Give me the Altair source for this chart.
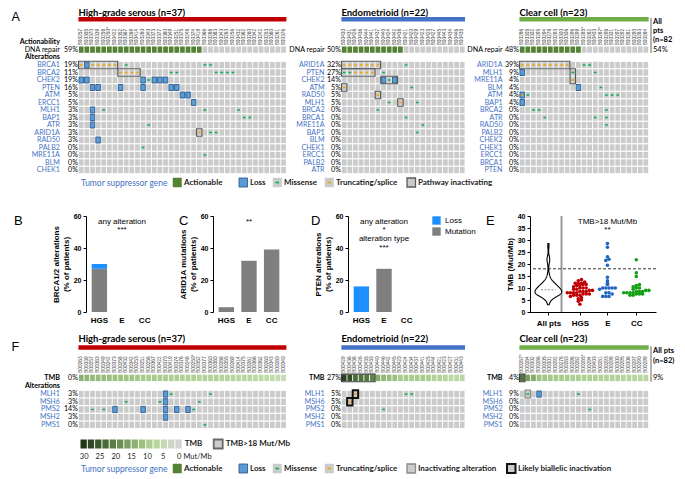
import altair as alt
import pandas as pd

FONT = "Lato"
AXF = "Liberation Sans"

# ======================= DATA =======================
GROUPS = ["HGS", "E", "CC"]

# ---- Panel A: sample order per histotype ----
HGS_IDS_A = ["B00257", "B00355", "B00370", "B00339", "B00258", "B00250*", "B00422", "B00352", "B00367",
             "B00269", "B00414", "B00280", "B00340", "B00373", "B00377", "B00380", "B00349", "B00251",
             "B00375", "B00248", "B00374", "B00419", "B00366", "B00288", "B00383", "B00343", "B00263",
             "B00256", "B00432", "B00362", "B00260", "B00342", "B00242", "B00253", "B00360", "B00261",
             "B00376"]
END_IDS_A = ["B00430", "B00431", "B00426", "B00436", "B00444", "B00441", "B00437", "B00440", "B00424",
             "B00442", "B00438", "B00421", "B00420", "B00429", "B00423", "B00425", "B00427", "B00445",
             "B00443", "B00434", "B00446", "B00435"]
CC_IDS_A = ["B00286", "B00305", "B00302", "B00295", "B00294", "B00278", "B00293", "B00300", "B00306",
            "B00296", "B00299", "B00285*", "B00282", "B00403", "B00287*", "B00298", "B00301", "B00297",
            "B00292", "B00281", "B00290", "B00283", "B00284"]

HGS_GENES_A = ["BRCA1", "BRCA2", "CHEK2", "PTEN", "ATM", "ERCC1", "MLH1", "BAP1", "ATR", "ARID1A",
               "RAD50", "PALB2", "MRE11A", "BLM", "CHEK1"]
HGS_PCT_A = [19, 11, 19, 16, 5, 5, 3, 3, 3, 3, 3, 0, 0, 0, 0]
END_GENES_A = ["ARID1A", "PTEN", "CHEK2", "ATM", "RAD50", "MLH1", "BRCA2", "BRCA1", "MRE11A", "BAP1",
               "BLM", "CHEK1", "ERCC1", "PALB2", "ATR"]
END_PCT_A = [32, 27, 14, 5, 5, 5, 0, 0, 0, 0, 0, 0, 0, 0, 0]
CC_GENES_A = ["ARID1A", "MLH1", "MRE11A", "BLM", "ATM", "BAP1", "BRCA2", "ATR", "RAD50", "PALB2",
              "CHEK2", "CHEK1", "ERCC1", "BRCA1", "PTEN"]
CC_PCT_A = [39, 9, 4, 4, 4, 4, 0, 0, 0, 0, 0, 0, 0, 0, 0]

DNA_REPAIR_PCT = {"HGS": 59, "E": 50, "CC": 48, "All": 54}
ACTIONABLE_N = {"HGS": 22, "E": 11, "CC": 11}

# events: (gene, kind, sample columns)
HGS_EV_A = [
    ("BRCA1", "trunc", [0, 2, 3, 4, 5, 6]), ("BRCA1", "loss", [1]), ("BRCA1", "missense", [8, 22, 23]),
    ("BRCA2", "trunc", [7, 8, 9, 10]), ("BRCA2", "missense", [16, 17, 24, 25, 26, 27]),
    ("CHEK2", "loss", [0, 1, 11, 13, 14, 15]), ("CHEK2", "missense", [12]),
    ("PTEN", "loss", [2, 3, 7, 11, 16, 17]),
    ("ATM", "loss", [18, 19]),
    ("ERCC1", "loss", [20]),
    ("MLH1", "loss", [2]), ("MLH1", "missense", [4, 22, 28]),
    ("BAP1", "loss", [2]), ("BAP1", "missense", [29, 30]),
    ("ATR", "loss", [2]), ("ATR", "missense", [12]),
    ("ARID1A", "trunc", [21]), ("ARID1A", "missense", [23, 24]),
    ("RAD50", "loss", [3]),
    ("PALB2", "missense", [11]),
    ("MRE11A", "missense", [22]),
]
HGS_BOX_A = [("BRCA1", "BRCA1", 0, 6, "path"), ("BRCA2", "BRCA2", 7, 10, "path"),
             ("ARID1A", "ARID1A", 21, 21, "path")]

END_EV_A = [
    ("ARID1A", "trunc", [0, 1, 2, 3, 4, 5, 6]), ("ARID1A", "missense", [11]),
    ("PTEN", "missense", [0, 1, 7]), ("PTEN", "trunc", [2, 3, 4, 5]),
    ("CHEK2", "loss", [7, 9]), ("CHEK2", "missense", [8]),
    ("ATM", "trunc", [0]), ("ATM", "missense", [12]),
    ("RAD50", "trunc", [6]),
    ("MLH1", "missense", [8, 13]), ("MLH1", "trunc", [10]),
    ("BRCA2", "missense", [6]),
    ("BRCA1", "missense", [11]),
    ("MRE11A", "missense", [14]),
    ("BAP1", "missense", [13]),
]
END_BOX_A = [("ARID1A", "ARID1A", 0, 6, "path"), ("PTEN", "PTEN", 0, 5, "path"),
             ("CHEK2", "CHEK2", 7, 9, "path"), ("ATM", "ATM", 0, 0, "path"),
             ("RAD50", "RAD50", 6, 6, "path"), ("MLH1", "MLH1", 10, 10, "path")]

CC_EV_A = [
    ("ARID1A", "trunc", [0, 1, 2, 3, 4, 5, 6, 7, 8]), ("ARID1A", "missense", [11, 12]),
    ("MLH1", "loss", [0]), ("MLH1", "missense", [9, 13]),
    ("MRE11A", "trunc", [9]),
    ("BLM", "loss", [10]), ("BLM", "missense", [14]),
    ("ATM", "loss", [0]), ("ATM", "trunc", [0]), ("ATM", "missense", [1, 15, 16, 17]),
    ("BAP1", "loss", [0]),
    ("BRCA2", "missense", [2, 3, 15]),
    ("ATR", "missense", [4, 13, 15]),
    ("RAD50", "missense", [15]),
]
CC_BOX_A = [("ARID1A", "ARID1A", 0, 8, "path"), ("MLH1", "MRE11A", 9, 9, "path")]

# ---- Panels B-D (% of patients) ----
B_GROUP = ["HGS", "HGS", "E", "CC"]
B_TYPE = ["Mutation", "Loss", "Mutation", "Mutation"]
B_VALUE = [27, 3, 0, 0]
C_GROUP = ["HGS", "E", "CC"]
C_TYPE = ["Mutation", "Mutation", "Mutation"]
C_VALUE = [3, 32, 39]
D_GROUP = ["HGS", "E", "CC"]
D_TYPE = ["Loss", "Mutation", "Mutation"]
D_VALUE = [16, 27, 0]

# ---- TMB (Mut/Mb), sorted high to low within each histotype (panels E and F) ----
HGS_TMB = [13.5, 13, 12.5, 12, 12, 12, 11.5, 11.5, 11, 11, 10.5, 10, 10, 10, 9.5, 9.5, 9, 9, 8.5,
           8.5, 8.5, 8, 8, 8, 8, 7.5, 7.5, 7.5, 7, 7, 7, 6.5, 6, 5.5, 5, 4.5, 3.2]
END_TMB = [28.5, 27, 23, 22, 21.5, 19.5, 14.5, 13, 12, 11.5, 10, 10, 10, 10, 10, 9.5, 8, 8, 7.5,
           6.5, 6.5, 6.5]
CC_TMB = [21.8, 16.3, 14.8, 11.4, 11, 10.5, 10, 10, 9.5, 9, 9, 8.5, 8.5, 8.5, 8, 8, 8, 8, 7.5, 7.5,
          7.5, 7, 7]

# ---- Panel F: sample order (by TMB) ----
HGS_IDS_F = ["B00263", "B00339", "B00257", "B00383", "B00349", "B00242", "B00373", "B00258", "B00432",
             "B00342", "B00253", "B00251", "B00256", "B00367", "B00422", "B00370", "B00419", "B00374",
             "B00376", "B00248", "B00250*", "B00352", "B00377", "B00360", "B00380", "B00288", "B00355",
             "B00269", "B00414", "B00375", "B00261", "B00366", "B00362", "B00260", "B00343", "B00280",
             "B00340"]
END_IDS_F = ["B00429", "B00436", "B00438", "B00426", "B00435", "B00430", "B00440", "B00446", "B00442",
             "B00445", "B00420", "B00424", "B00434", "B00437", "B00441", "B00425", "B00444", "B00421",
             "B00423", "B00427", "B00431", "B00443"]
CC_IDS_F = ["B00287*", "B00284", "B00302", "B00286", "B00305", "B00301", "B00292", "B00278", "B00283",
            "B00296", "B00282", "B00285*", "B00294", "B00403", "B00281", "B00293", "B00298", "B00300",
            "B00295", "B00306", "B00297", "B00290", "B00299"]

MMR_GENES = ["MLH1", "MSH6", "PMS2", "MSH2", "PMS1"]
HGS_PCT_F = [3, 3, 14, 3, 0]
END_PCT_F = [5, 5, 0, 0, 0]
CC_PCT_F = [9, 0, 0, 0, 0]
TMB_HIGH_PCT = {"HGS": 0, "E": 27, "CC": 4, "All": 9}

HGS_EV_F = [
    ("MLH1", "loss", [15]), ("MLH1", "missense", [16, 23]),
    ("MSH6", "missense", [8, 14, 21]), ("MSH6", "loss", [15]),
    ("PMS2", "missense", [2, 4, 20]), ("PMS2", "loss", [6, 11, 15, 17, 19]),
    ("MSH2", "loss", [15]),
    ("PMS1", "missense", [22]),
]
HGS_BOX_F = []
END_EV_F = [
    ("MLH1", "trunc", [2]), ("MLH1", "missense", [11, 12]),
    ("MSH6", "trunc", [1]),
    ("PMS2", "missense", [7]),
]
END_BOX_F = [("TOP", "TOP", 0, 5, "tmbhi"), ("MLH1", "MLH1", 2, 2, "biall"), ("MSH6", "MSH6", 1, 1, "biall")]
CC_EV_F = [
    ("MLH1", "missense", [1, 10]), ("MLH1", "loss", [3]),
    ("PMS2", "missense", [12]),
]
CC_BOX_F = [("TOP", "TOP", 0, 0, "tmbhi"), ("MLH1", "MLH1", 1, 1, "inact")]

# ======================= STYLE / LAYOUT =======================
CELL = 5.62
GRAY = "#cbcbcb"
GREEN = "#548235"
LOSS = "#5b9bd5"
LOSS_S = "#2f5f8f"
MIS = "#00b050"
TRUNC = "#f5a300"
TSG = "#4472c4"
BAR_COL = {"HGS": "#c00000", "E": "#4472c4", "CC": "#70ad47"}
BOX_STYLE = {"path": ("#5a5a5a", 1.2), "inact": ("#8a8a8a", 1.2), "biall": ("#111111", 2.0),
             "tmbhi": ("#3a3a3a", 1.2)}
TMB_SCALE = alt.Scale(domain=[0, 5, 10, 20, 30],
                      range=["#d3d3d3", "#c3dcae", "#a8cc8c", "#5e8447", "#22361a"], clamp=True)
BLUE_B = "#1e8fff"
GRAY_B = "#7f7f7f"
PT_COL = ["#c00000", "#1f66c2", "#12a012"]

LBL_FS = 7.1
PCT_X = -0.1
LEFT = {"HGS": 12.0, "E": 9.5, "CC": 9.5}
LABEL_X = {"HGS": -3.3, "E": -3.0, "CC": -3.0}
ALLW = 27
GEO_A = dict(ydom=[-7.6, 14.5], px=7.5, title=-6.9, bar=-6.1, ids=-2.62, top=-2.05)
GEO_F = dict(ydom=[-7.8, 4.5], px=7.7, title=-7.2, bar=-6.05, ids=-2.75, top=-2.1)


def expand_events(events, rowmap):
    recs = [{"col": c, "row": rowmap[g], "kind": k} for g, k, cols in events for c in cols]
    return pd.DataFrame(recs, columns=["col", "row", "kind"])


def expand_boxes(boxes, rowmap):
    recs = [{"r0": rowmap[a], "r1": rowmap[b], "c0": c0, "c1": c1, "kind": k} for a, b, c0, c1, k in boxes]
    return pd.DataFrame(recs, columns=["r0", "r1", "c0", "c1", "kind"])


def onco(ids, genes, pcts, events, boxes, title, grp, G, top_kind, top_vals,
         top_label, top_pct, headers=(), letter=None):
    n = len(ids)
    left = LEFT[grp]
    lx = LABEL_X[grp]
    xs = alt.Scale(domain=[-left, n + 0.12], nice=False, zero=False)
    ys = alt.Scale(domain=G["ydom"], nice=False, zero=False, reverse=True)

    def enc(xf, yf, x2=None, y2=None):
        e = dict(x=alt.X(xf, type="quantitative", scale=xs, axis=None),
                 y=alt.Y(yf, type="quantitative", scale=ys, axis=None))
        if x2:
            e["x2"] = alt.X2(x2)
        if y2:
            e["y2"] = alt.Y2(y2)
        return e

    rowmap = {g: i for i, g in enumerate(genes)}
    rowmap["TOP"] = G["top"]
    cellbox = dict(x0="datum.col+0.08", x1="datum.col+0.92", y0="datum.row-0.42", y1="datum.row+0.42")
    L = []
    cells = pd.DataFrame([{"col": c, "row": r} for r in range(len(genes)) for c in range(n)])
    L.append(alt.Chart(cells).transform_calculate(**cellbox).mark_rect(color=GRAY)
             .encode(**enc("x0", "y0", "x1", "y1")))
    top = pd.DataFrame({"col": list(range(n)), "v": top_vals})
    topc = alt.Chart(top).transform_calculate(row=str(G["top"]), **cellbox)
    if top_kind == "action":
        L.append(topc.mark_rect().encode(
            color=alt.condition("datum.v > 0", alt.value(GREEN), alt.value(GRAY)),
            **enc("x0", "y0", "x1", "y1")))
    else:
        L.append(topc.mark_rect().encode(color=alt.Color("v:Q", scale=TMB_SCALE, legend=None),
                                         **enc("x0", "y0", "x1", "y1")))
    ev = expand_events(events, rowmap)
    loss = ev[ev.kind == "loss"]
    if len(loss):
        L.append(alt.Chart(loss).transform_calculate(
            x0="datum.col+0.1", x1="datum.col+0.9", y0="datum.row-0.4", y1="datum.row+0.4")
            .mark_rect(color=LOSS, stroke=LOSS_S, strokeWidth=0.9).encode(**enc("x0", "y0", "x1", "y1")))
    for kind, colr in (("missense", MIS), ("trunc", TRUNC)):
        sub = ev[ev.kind == kind]
        if len(sub):
            L.append(alt.Chart(sub).transform_calculate(x0="datum.col+0.27", x1="datum.col+0.73")
                     .mark_rule(color=colr, strokeWidth=1.5).encode(**enc("x0", "row", "x1")))
    bx = expand_boxes(boxes, rowmap)
    for kind, (colr, sw) in BOX_STYLE.items():
        sub = bx[bx.kind == kind]
        if len(sub):
            L.append(alt.Chart(sub).transform_calculate(
                x0="datum.c0+0.02", x1="datum.c1+0.98", y0="datum.r0-0.5", y1="datum.r1+0.5")
                .mark_rect(fillOpacity=0, stroke=colr, strokeWidth=sw).encode(**enc("x0", "y0", "x1", "y1")))
    # labels
    gl = pd.DataFrame({"t": genes, "row": list(range(len(genes)))})
    L.append(alt.Chart(gl).transform_calculate(xx=str(lx))
             .mark_text(align="right", baseline="middle", font=FONT, fontSize=LBL_FS, color=TSG)
             .encode(text="t:N", **enc("xx", "row")))
    pl = pd.DataFrame({"t": [f"{p}%" for p in pcts] + [f"{top_pct}%"],
                       "row": list(range(len(genes))) + [G["top"]]})
    L.append(alt.Chart(pl).transform_calculate(xx=str(PCT_X))
             .mark_text(align="right", baseline="middle", font=FONT, fontSize=LBL_FS, color="black")
             .encode(text="t:N", **enc("xx", "row")))
    tl = pd.DataFrame({"t": [top_label], "row": [G["top"]]})
    L.append(alt.Chart(tl).transform_calculate(xx=str(lx))
             .mark_text(align="right", baseline="middle", font=FONT, fontSize=LBL_FS, color="black",
                        fontWeight="bold" if top_kind == "tmb" else "normal")
             .encode(text="t:N", **enc("xx", "row")))
    if headers:
        hl = pd.DataFrame({"t": [h for h, _ in headers], "row": [r for _, r in headers]})
        L.append(alt.Chart(hl).transform_calculate(xx=str(lx))
                 .mark_text(align="right", baseline="middle", font=FONT, fontSize=LBL_FS, fontWeight="bold",
                            color="black")
                 .encode(text="t:N", **enc("xx", "row")))
    il = pd.DataFrame({"t": ids, "col": list(range(n))})
    L.append(alt.Chart(il).transform_calculate(xx="datum.col+0.5", row=str(G["ids"]))
             .mark_text(angle=270, align="left", baseline="middle", font=AXF, fontSize=4.8, color="#444")
             .encode(text="t:N", **enc("xx", "row")))
    L.append(alt.Chart(pd.DataFrame({"t": [title]})).transform_calculate(xx="0", row=str(G["title"]))
             .mark_text(align="left", baseline="middle", font=FONT, fontSize=9.5, fontWeight="bold",
                        color="black")
             .encode(text="t:N", **enc("xx", "row")))
    L.append(alt.Chart(pd.DataFrame({"n": [n]})).transform_calculate(
        x0="0", x1="datum.n", y0=str(G["bar"] - 0.3), y1=str(G["bar"] + 0.3))
        .mark_rect(color=BAR_COL[grp]).encode(**enc("x0", "y0", "x1", "y1")))
    if letter:
        at_top = letter != "F"
        L.append(alt.Chart(pd.DataFrame({"t": [letter]})).transform_calculate(
            xx=str(-left + 0.1), row=str(G["ydom"][0] + 0.35 if at_top else G["bar"]))
            .mark_text(align="left", baseline="top" if at_top else "middle", font=AXF, fontSize=12.5,
                       color="black")
            .encode(text="t:N", **enc("xx", "row")))
    return alt.layer(*L).properties(width=(left + n + 0.12) * CELL,
                                    height=(G["ydom"][1] - G["ydom"][0]) * G["px"])


def allpts(lines, G, rule_rows):
    xs = alt.Scale(domain=[0, ALLW], nice=False, zero=False)
    ys = alt.Scale(domain=G["ydom"], nice=False, zero=False, reverse=True)
    L = [alt.Chart(pd.DataFrame({"y0": [rule_rows[0]], "y1": [rule_rows[1]]}))
         .transform_calculate(xx="1").mark_rule(color="#9a9a9a", strokeWidth=1.5)
         .encode(x=alt.X("xx:Q", scale=xs, axis=None), y=alt.Y("y0:Q", scale=ys, axis=None),
                 y2=alt.Y2("y1"))]
    for w in ("bold", "normal"):
        sub = [(t, r) for t, r, ww in lines if ww == w]
        if sub:
            df = pd.DataFrame({"t": [s[0] for s in sub], "row": [s[1] for s in sub]})
            L.append(alt.Chart(df).transform_calculate(xx="3")
                     .mark_text(align="left", baseline="middle", font=FONT, fontSize=7.5, fontWeight=w,
                                color="black")
                     .encode(x=alt.X("xx:Q", scale=xs, axis=None), y=alt.Y("row:Q", scale=ys, axis=None),
                             text="t:N"))
    return alt.layer(*L).properties(width=ALLW, height=(G["ydom"][1] - G["ydom"][0]) * G["px"])


LEG_STYLE = {
    "action": (GREEN, GREEN, 0.5, None),
    "loss": (LOSS, LOSS_S, 0.9, None),
    "missense": (GRAY, GRAY, 0.5, MIS),
    "trunc": (GRAY, GRAY, 0.5, TRUNC),
    "path": (GRAY, "#5a5a5a", 1.3, None),
    "inact": (GRAY, "#8a8a8a", 1.3, None),
    "biall": (GRAY, "#111111", 2.0, None),
}


def legend_chart(items, width, height, ymid, extra=()):
    xs = alt.Scale(domain=[0, width], nice=False, zero=False)
    ys = alt.Scale(domain=[0, height], nice=False, zero=False, reverse=True)

    def ex(f):
        return alt.X(f, type="quantitative", scale=xs, axis=None)

    def ey(f):
        return alt.Y(f, type="quantitative", scale=ys, axis=None)

    sq = [i for i in items if i[1] != "tsg"]
    sqdf = pd.DataFrame({"x": [i[0] for i in sq], "label": [i[2] for i in sq],
                         "fill": [LEG_STYLE[i[1]][0] for i in sq], "stroke": [LEG_STYLE[i[1]][1] for i in sq],
                         "sw": [LEG_STYLE[i[1]][2] for i in sq],
                         "dash": [LEG_STYLE[i[1]][3] or "none" for i in sq], "y": ymid})
    L = []
    L.append(alt.Chart(sqdf).transform_calculate(x1="datum.x+8.5", y0="datum.y-4.5", y1="datum.y+4.5")
             .mark_rect().encode(x=ex("x"), x2=alt.X2("x1"), y=ey("y0"), y2=alt.Y2("y1"),
                                 color=alt.Color("fill:N", scale=None),
                                 stroke=alt.Stroke("stroke:N", scale=None),
                                 strokeWidth=alt.StrokeWidth("sw:Q", scale=None)))
    dd = sqdf[sqdf.dash != "none"]
    L.append(alt.Chart(dd).transform_calculate(x0="datum.x+2.5", x1="datum.x+6")
             .mark_rule(strokeWidth=1.6).encode(x=ex("x0"), x2=alt.X2("x1"), y=ey("y"),
                                                color=alt.Color("dash:N", scale=None)))
    L.append(alt.Chart(sqdf).transform_calculate(xt="datum.x+11")
             .mark_text(align="left", baseline="middle", font=FONT, fontSize=8, fontWeight="bold",
                        color="#222").encode(x=ex("xt"), y=ey("y"), text="label:N"))
    ts = [i for i in items if i[1] == "tsg"]
    tsdf = pd.DataFrame({"x": [i[0] for i in ts], "label": [i[2] for i in ts], "y": ymid})
    L.append(alt.Chart(tsdf).mark_text(align="left", baseline="middle", font=FONT, fontSize=8.5, color=TSG)
             .encode(x=ex("x"), y=ey("y"), text="label:N"))
    for e in extra:
        L.append(e(ex, ey))
    return alt.layer(*L).properties(width=width, height=height)


# ======================= PANEL A =======================
hgsA = onco(HGS_IDS_A, HGS_GENES_A, HGS_PCT_A, HGS_EV_A, HGS_BOX_A, "High-grade serous (n=37)",
            "HGS", GEO_A, "action",
            [1 if c < ACTIONABLE_N["HGS"] else 0 for c in range(len(HGS_IDS_A))],
            "DNA repair", DNA_REPAIR_PCT["HGS"],
            headers=[("Actionability", -3.1), ("Alterations", -1.05)], letter="A")
endA = onco(END_IDS_A, END_GENES_A, END_PCT_A, END_EV_A, END_BOX_A, "Endometrioid (n=22)",
            "E", GEO_A, "action",
            [1 if c < ACTIONABLE_N["E"] else 0 for c in range(len(END_IDS_A))],
            "DNA repair", DNA_REPAIR_PCT["E"])
ccA = onco(CC_IDS_A, CC_GENES_A, CC_PCT_A, CC_EV_A, CC_BOX_A, "Clear cell (n=23)",
           "CC", GEO_A, "action",
           [1 if c < ACTIONABLE_N["CC"] else 0 for c in range(len(CC_IDS_A))],
           "DNA repair", DNA_REPAIR_PCT["CC"])
allA = allpts([("All", -5.7, "bold"), ("pts", -4.5, "bold"), ("(n=82", -3.3, "bold"),
               (f"{DNA_REPAIR_PCT['All']}%", -2.05, "normal")], GEO_A, (-6.3, -1.6))
rowA = alt.hconcat(hgsA, endA, ccA, allA, spacing=0).resolve_scale(color="independent")

ROW_W = (LEFT["HGS"] + LEFT["E"] + LEFT["CC"] + len(HGS_IDS_A) + len(END_IDS_A) + len(CC_IDS_A) + 0.36) * CELL
legA = legend_chart([(70, "tsg", "Tumor suppressor gene"), (162, "action", "Actionable"),
                     (228, "loss", "Loss"), (262, "missense", "Missense"), (314, "trunc", "Truncating/splice"),
                     (396, "path", "Pathway inactivating")], ROW_W, 11, 5.5)


# ======================= PANELS B-E =======================
def letter_layer(letter, dx, pad):
    lt = alt.Chart(pd.DataFrame({"t": [letter]})).mark_text(
        align="left", baseline="top", font=AXF, fontSize=13, color="black").encode(
        x=alt.value(dx), y=alt.value(-1), text="t:N")
    padl = alt.Chart(pd.DataFrame({"t": [letter]})).mark_rule(opacity=0, color="white").encode(
        x=alt.value(pad), x2=alt.value(pad + 1), y=alt.value(2))
    return [lt, padl]


def bar_panel(group, typ, value, letter, ytitle, notes, legend=None, letter_dx=-70, pad=-70):
    df = pd.DataFrame({"group": group, "type": typ, "value": value})
    xsc = alt.Scale(domain=GROUPS, paddingInner=0.32, paddingOuter=0.25)
    xax = alt.Axis(title=None, labelAngle=0, domain=False, ticks=False, labelFont=AXF, labelFontSize=8,
                   labelFontWeight="bold", labelColor="black", labelPadding=4)
    ysc = alt.Scale(domain=[0, 60], nice=False)
    yax = alt.Axis(values=[0, 20, 40, 60], title=ytitle, grid=False, domainColor="black", tickColor="black",
                   tickSize=3, labelFont=AXF, labelFontSize=7, labelFontWeight="bold", labelColor="black",
                   titleFont=AXF, titleFontSize=8, titleFontWeight="bold", titleColor="black",
                   titlePadding=3, labelPadding=2)
    bars = alt.Chart(df).transform_calculate(ord="datum.type == 'Loss' ? 1 : 0").mark_bar().encode(
        x=alt.X("group:N", scale=xsc, axis=xax, sort=GROUPS),
        y=alt.Y("value:Q", scale=ysc, axis=yax, stack="zero"),
        color=alt.Color("type:N", scale=alt.Scale(domain=["Loss", "Mutation"], range=[BLUE_B, GRAY_B]),
                        legend=legend),
        order=alt.Order("ord:Q"))
    nt = alt.Chart(pd.DataFrame(notes, columns=["t", "y"]).assign(group="E")).mark_text(
        font=AXF, fontSize=8, color="black").encode(
        x=alt.X("group:N", scale=xsc, axis=xax, sort=GROUPS), y=alt.Y("y:Q", scale=ysc, axis=yax), text="t:N")
    return alt.layer(bars, nt, *letter_layer(letter, letter_dx, pad)).properties(width=72, height=96)


B = bar_panel(B_GROUP, B_TYPE, B_VALUE, "B", ["BRCA1/2 alterations", "(% of patients)"],
              [("any alteration", 56.5), ("***", 51)], letter_dx=-72, pad=-72)
C = bar_panel(C_GROUP, C_TYPE, C_VALUE, "C", ["ARID1A mutations", "(% of patients)"],
              [("**", 56)], letter_dx=-34, pad=-55)
D = bar_panel(D_GROUP, D_TYPE, D_VALUE, "D", ["PTEN alterations", "(% of patients)"],
              [("any alteration", 56.5), ("*", 51.5), ("alteration type", 45.5), ("***", 40)],
              legend=alt.Legend(title=None, orient="right", symbolType="square", symbolSize=70,
                                labelFont=AXF, labelFontSize=8, offset=12, symbolStrokeWidth=0,
                                rowPadding=2),
              letter_dx=-37, pad=-63)

E_POS = [0, 1.2, 2.25, 3.35]
E_NAMES = ["All pts", "HGS", "E", "CC"]
tmb_df = pd.DataFrame({"group": ["HGS"] * len(HGS_TMB) + ["E"] * len(END_TMB) + ["CC"] * len(CC_TMB),
                       "tmb": HGS_TMB + END_TMB + CC_TMB})
xsE = alt.Scale(domain=[-0.7, 4.1], nice=False, zero=False)
ysE = alt.Scale(domain=[0, 40], nice=False)
lab_expr = " : ".join(f"datum.value == {p} ? '{nm}'" for p, nm in zip(E_POS[:-1], E_NAMES[:-1])) + f" : '{E_NAMES[-1]}'"
xaxE = alt.Axis(values=E_POS, labelExpr=lab_expr, title=None, grid=False, domainColor="black",
                tickColor="black", tickSize=3, labelFont=AXF, labelFontSize=8, labelFontWeight="bold",
                labelColor="black", labelPadding=4)
yaxE = alt.Axis(values=list(range(0, 45, 5)), title="TMB (Mut/Mb)", grid=False, domainColor="black",
                tickColor="black", tickSize=3, labelFont=AXF, labelFontSize=7, labelFontWeight="bold",
                labelColor="black", titleFont=AXF, titleFontSize=8, titleFontWeight="bold",
                titleColor="black", titlePadding=3, labelPadding=2)
violin = alt.Chart(tmb_df).transform_density(
    "tmb", as_=["v", "d"], bandwidth=1.3, extent=[3, 28.5], steps=150
).transform_calculate(lo="-datum.d*3.6", hi="datum.d*3.6").mark_area(
    orient="horizontal", fill="white", stroke="black", strokeWidth=1.1
).encode(y=alt.Y("v:Q", scale=ysE, axis=yaxE), x=alt.X("lo:Q", scale=xsE, axis=xaxE), x2=alt.X2("hi"))
med = alt.Chart(tmb_df).mark_rule(strokeDash=[2, 1.5], color="#888888", strokeWidth=1).encode(
    y=alt.Y("median(tmb):Q", scale=ysE, axis=yaxE), x=alt.datum(-0.28), x2=alt.datum(0.28))
divider = alt.Chart(pd.DataFrame({"p": [0.5]})).mark_rule(color="#9a9a9a", strokeWidth=2).encode(
    x=alt.X("p:Q", scale=xsE, axis=xaxE))
thresh = alt.Chart(pd.DataFrame({"v": [18]})).mark_rule(strokeDash=[3, 2], color="#333333",
                                                        strokeWidth=1).encode(y=alt.Y("v:Q", scale=ysE, axis=yaxE))
cx_expr = " : ".join(f"datum.group == '{g}' ? {p}" for g, p in zip(GROUPS[:-1], E_POS[1:-1])) + f" : {E_POS[-1]}"
pts = alt.Chart(tmb_df).transform_calculate(
    cx=cx_expr, b="floor(datum.tmb / 1.3)"
).transform_window(
    rk="row_number()", cnt="count()", groupby=["group", "b"], frame=[None, None],
    sort=[alt.SortField("tmb", order="ascending")]
).transform_calculate(
    xp="datum.cx + (datum.rk - 1 - (datum.cnt - 1) / 2) * 0.12"
).mark_circle(size=13, opacity=1).encode(
    x=alt.X("xp:Q", scale=xsE, axis=xaxE), y=alt.Y("tmb:Q", scale=ysE, axis=yaxE),
    color=alt.Color("group:N", scale=alt.Scale(domain=GROUPS, range=PT_COL), legend=None))
enote = alt.Chart(pd.DataFrame({"t": ["TMB>18 Mut/Mb", "**"], "y": [37.5, 34.2], "x": [2.25, 2.25]})).mark_text(
    font=AXF, fontSize=8, color="black").encode(x=alt.X("x:Q", scale=xsE, axis=xaxE),
                                                 y=alt.Y("y:Q", scale=ysE, axis=yaxE), text="t:N")
E = alt.layer(divider, thresh, violin, med, pts, enote, *letter_layer("E", -44, -54)).properties(
    width=126, height=96)

spacer = alt.Chart(pd.DataFrame({"a": [0]})).mark_point(opacity=0).encode(
    x=alt.value(0), y=alt.value(0)).properties(width=1, height=1)
rowBE = alt.hconcat(spacer, B, C, D, E, spacing=0).resolve_scale(color="independent")

# ======================= PANEL F =======================
hgsF = onco(HGS_IDS_F, MMR_GENES, HGS_PCT_F, HGS_EV_F, HGS_BOX_F, "High-grade serous (n=37)",
            "HGS", GEO_F, "tmb", HGS_TMB, "TMB", TMB_HIGH_PCT["HGS"],
            headers=[("Alterations", -1.05)], letter="F")
endF = onco(END_IDS_F, MMR_GENES, END_PCT_F, END_EV_F, END_BOX_F, "Endometrioid (n=22)",
            "E", GEO_F, "tmb", END_TMB, "TMB", TMB_HIGH_PCT["E"])
ccF = onco(CC_IDS_F, MMR_GENES, CC_PCT_F, CC_EV_F, CC_BOX_F, "Clear cell (n=23)",
           "CC", GEO_F, "tmb", CC_TMB, "TMB", TMB_HIGH_PCT["CC"])
allF = allpts([("All pts", -5.6, "bold"), ("(n=82)", -4.3, "bold"),
               (f"{TMB_HIGH_PCT['All']}%", -2.1, "normal")], GEO_F, (-6.2, -1.6))
rowF = alt.hconcat(hgsF, endF, ccF, allF, spacing=0).resolve_scale(color="independent")

# TMB colour key
KEY_N = 14
KEY_X0 = 69.5
KEY_STEP = 7.3
KEY_TICKS = [30, 25, 20, 15, 10, 5, 0]


def tmb_key(ex, ey):
    kd = pd.DataFrame({"i": list(range(KEY_N))})
    boxes = alt.Chart(kd).transform_calculate(
        v=f"30 - datum.i * 30 / {KEY_N - 1}", x0=f"{KEY_X0} + datum.i * {KEY_STEP}",
        x1=f"{KEY_X0} + datum.i * {KEY_STEP} + {KEY_STEP - 1}", y0="0.5", y1="9.5"
    ).mark_rect().encode(x=ex("x0"), x2=alt.X2("x1"), y=ey("y0"), y2=alt.Y2("y1"),
                         color=alt.Color("v:Q", scale=TMB_SCALE, legend=None))
    td = pd.DataFrame({"t": [str(t) for t in KEY_TICKS], "v": KEY_TICKS})
    ticks = alt.Chart(td).transform_calculate(
        xx=f"{KEY_X0} + (30 - datum.v) / 30 * {(KEY_N - 1) * KEY_STEP} + {KEY_STEP / 2}", yy="18"
    ).mark_text(align="center", baseline="middle", font=FONT, fontSize=7.5, color="#222").encode(
        x=ex("xx"), y=ey("yy"), text="t:N")
    words = pd.DataFrame({"t": ["TMB", "Mut/Mb", "TMB>18 Mut/Mb"],
                          "xx": [KEY_X0 + KEY_N * KEY_STEP + 2, KEY_X0 + (KEY_N - 1) * KEY_STEP + 8,
                                 KEY_X0 + KEY_N * KEY_STEP + 43],
                          "yy": [5, 18, 5], "w": ["b", "n", "b"]})
    wl = alt.layer(
        alt.Chart(words[words.w == "b"]).mark_text(align="left", baseline="middle", font=FONT, fontSize=8,
                                                   fontWeight="bold", color="#222")
        .encode(x=ex("xx"), y=ey("yy"), text="t:N"),
        alt.Chart(words[words.w == "n"]).mark_text(align="left", baseline="middle", font=FONT, fontSize=7.5,
                                                   color="#222")
        .encode(x=ex("xx"), y=ey("yy"), text="t:N"))
    hb = alt.Chart(pd.DataFrame({"x0": [KEY_X0 + KEY_N * KEY_STEP + 31]})).transform_calculate(
        x1="datum.x0 + 9", y0="0.5", y1="9.5").mark_rect(color=GRAY, stroke="#6a6a6a", strokeWidth=1.8).encode(
        x=ex("x0"), x2=alt.X2("x1"), y=ey("y0"), y2=alt.Y2("y1"))
    return alt.layer(boxes, ticks, wl, hb)


legF = legend_chart([(70, "tsg", "Tumor suppressor gene"), (162, "action", "Actionable"),
                     (228, "loss", "Loss"), (262, "missense", "Missense"), (314, "trunc", "Truncating/splice"),
                     (396, "inact", "Inactivating alteration"), (496, "biall", "Likely biallelic inactivation")],
                    ROW_W, 35, 29.5, extra=(tmb_key,))

blockA = alt.vconcat(rowA, legA, spacing=3).resolve_scale(color="independent")
blockF = alt.vconcat(rowF, legF, spacing=9).resolve_scale(color="independent")
lower = alt.vconcat(rowBE, blockF, spacing=6).resolve_scale(color="independent")
chart = alt.vconcat(blockA, lower, spacing=24).resolve_scale(color="independent").configure_view(
    stroke=None).properties(padding=0)

chart.save("out.html", embed_options={"renderer": "svg", "actions": False})
